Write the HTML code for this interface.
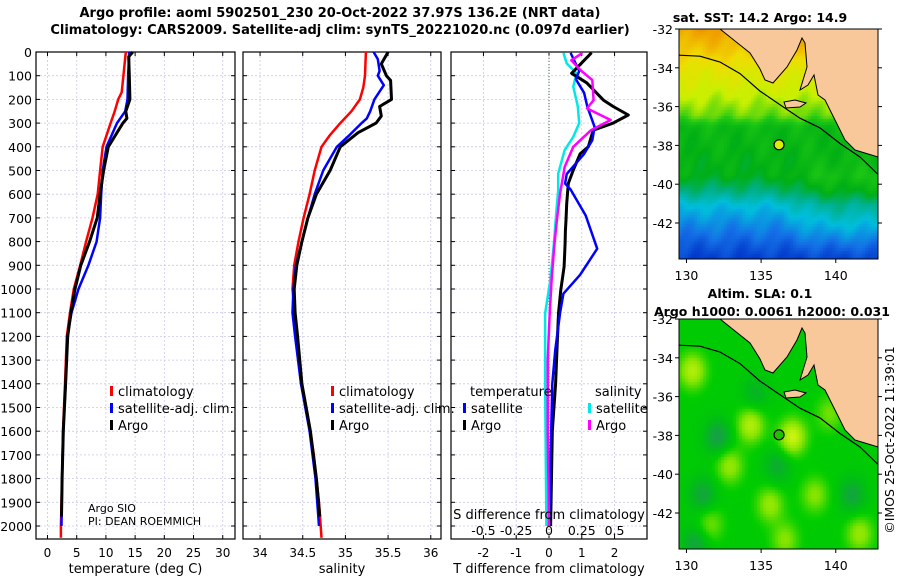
<!DOCTYPE html>
<html><head><meta charset="utf-8">
<style>
html,body{margin:0;padding:0;background:#fff;width:900px;height:580px;overflow:hidden;font-family:"DejaVu Sans","Liberation Sans",sans-serif;}
#wrap{position:relative;width:900px;height:580px;}
canvas{position:absolute;}
svg{position:absolute;left:0;top:0;}
</style></head><body>
<div id="wrap">
<canvas id="sst" width="199" height="230" style="left:679px;top:29px"></canvas>
<canvas id="sla" width="199" height="230" style="left:679px;top:319px"></canvas>
<svg id="fig" width="900" height="580"></svg>
</div>
<script>
// ---- data ----
const tDepth=[0,100,170,200,250,300,400,500,600,700,800,900,1000,1100,1200,1400,1600,1800,2000,2050];
const tClim=[13.4,13.0,12.7,12.1,11.5,10.8,9.45,9.0,8.6,7.7,6.6,5.6,4.5,3.85,3.3,3.0,2.65,2.5,2.3,2.3];
const tSatDepth=[0,50,100,200,250,300,400,500,600,700,800,900,1000,1100,1200,1400,1600,1800,2000];
const tSat=[14.0,13.9,13.8,13.7,13.3,11.9,10.1,9.45,9.2,9.0,8.4,7.0,5.3,4.1,3.4,3.1,2.7,2.5,2.4];
const argoDepth=[0,20,100,200,250,280,300,400,500,600,700,800,900,1000,1100,1200,1400,1600,1800,1960];
const tArgo=[14.6,13.9,14.0,14.1,13.4,13.6,12.9,10.4,9.6,9.0,8.5,7.2,5.7,4.7,4.0,3.45,3.1,2.7,2.5,2.4];
const sClimDepth=[0,100,150,200,250,300,350,400,500,600,700,800,900,1000,1400,1500,1600,1700,1800,1900,2000,2050];
const sClim=[35.24,35.23,35.21,35.17,35.07,34.94,34.82,34.72,34.64,34.58,34.51,34.45,34.40,34.38,34.48,34.54,34.59,34.63,34.66,34.69,34.71,34.72];
const sSatDepth=[0,30,80,100,140,200,250,280,300,350,400,500,600,700,800,900,1000,1100,1200,1400,1600,1800,2000];
const sSat=[35.33,35.38,35.40,35.38,35.45,35.34,35.29,35.25,35.19,35.05,34.9,34.74,34.64,34.56,34.49,34.42,34.39,34.38,34.41,34.48,34.58,34.65,34.69];
const sArgoDepth=[0,50,100,120,200,230,270,300,340,400,500,600,700,800,900,1000,1100,1200,1400,1600,1800,1960];
const sArgo=[35.50,35.42,35.48,35.53,35.54,35.40,35.42,35.36,35.15,34.94,34.82,34.66,34.56,34.49,34.43,34.40,34.41,34.44,34.49,34.59,34.66,34.70];
const dDepth=[3,90,130,203,230,266,300,330,400,430,498,555,640,709,755,808,906,1004,1103,1201,1400,1600,2000];
const dTArgo=[1.30,0.69,1.15,1.66,1.96,2.42,1.96,1.35,1.2,0.95,0.74,0.59,0.54,0.52,0.5,0.49,0.46,0.36,0.29,0.26,0.2,0.1,0.05];
const dSatDepth=[4,80,115,172,230,316,372,430,515,555,580,690,830,940,1020,1100,1260,1400,2000];
const dTSat=[0.66,0.92,0.82,1.07,1.17,1.39,1.32,1.07,0.54,0.49,0.66,1.12,1.47,0.95,0.44,0.34,0.19,0.1,0.0];
const dSArgoDepth=[4,35,77,118,203,238,287,330,400,485,597,709,822,963,1103,1300,1600,2000];
const dSArgo=[0.255,0.17,0.24,0.33,0.34,0.29,0.47,0.32,0.185,0.12,0.085,0.06,0.04,0.02,0.005,-0.01,-0.01,0.0];
const dSSatDepth=[4,48,90,146,230,300,358,414,513,583,681,822,963,1103,1400,2000];
const dSSat=[0.11,0.135,0.21,0.185,0.22,0.23,0.185,0.12,0.07,0.07,0.055,0.035,0.01,-0.03,-0.03,-0.02];
const tTicks=[0,5,10,15,20,25,30];
const sTicks=[34,34.5,35,35.5,36];
const dTTicks=[-2,-1,0,1,2];
const dSTicks=[-0.5,-0.25,0,0.25,0.5];
const depthTicks=[0,100,200,300,400,500,600,700,800,900,1000,1100,1200,1300,1400,1500,1600,1700,1800,1900,2000];

const NS='http://www.w3.org/2000/svg';
const svg=document.getElementById('fig');
function el(tag,attrs,parent){const e=document.createElementNS(NS,tag);for(const k in attrs)e.setAttribute(k,attrs[k]);(parent||svg).appendChild(e);return e;}
function txt(x,y,s,size,anchor,weight,parent){const t=el('text',{x:x,y:y,'font-size':size,'text-anchor':anchor||'middle','font-weight':weight||'normal',fill:'#000'},parent);t.textContent=s;return t;}

const top0=52,bot=539;
const yD=d=>top0+d*0.237;
const panels=[
 {x0:36,x1:235,v0:-1.97,v1:32.1,ticks:tTicks,name:'temperature-panel',title:'temperature (deg C)'},
 {x0:243,x1:441,v0:33.80,v1:36.12,ticks:sTicks,name:'salinity-panel',title:'salinity'},
 {x0:451,x1:647,v0:-2.99,v1:2.99,ticks:dTTicks,name:'difference-panel',title:'T difference from climatology'}
];
panels.forEach(p=>{p.x=v=>p.x0+(v-p.v0)/(p.v1-p.v0)*(p.x1-p.x0);});

let g=el('g',{});


txt(340,17,'Argo profile: aoml 5902501_230 20-Oct-2022 37.97S 136.2E (NRT data)',13,'middle','bold',g);
txt(340,34,'Climatology: CARS2009. Satellite-adj clim: synTS_20221020.nc (0.097d earlier)',13,'middle','bold',g);

panels.forEach((p,i)=>{
 const pg=el('g',{});
 
 
 depthTicks.forEach(d=>{if(d>0)el('line',{x1:p.x0,x2:p.x1,y1:yD(d),y2:yD(d),stroke:'#c8c8e8','stroke-width':0.8,'stroke-dasharray':'2,2'},pg);});
 p.ticks.forEach(v=>{el('line',{x1:p.x(v),x2:p.x(v),y1:top0,y2:bot,stroke:'#c8c8e8','stroke-width':0.8,'stroke-dasharray':'2,2'},pg);});
 depthTicks.forEach(d=>{el('line',{x1:p.x0,x2:p.x0+4,y1:yD(d),y2:yD(d),stroke:'#000'},pg);el('line',{x1:p.x1,x2:p.x1-4,y1:yD(d),y2:yD(d),stroke:'#000'},pg);});
 p.ticks.forEach(v=>{el('line',{x1:p.x(v),x2:p.x(v),y1:bot,y2:bot-4,stroke:'#000'},pg);el('line',{x1:p.x(v),x2:p.x(v),y1:top0,y2:top0+4,stroke:'#000'},pg);
   const t=txt(p.x(v),557,String(v),12,'middle','normal',pg);
   
   });
 const xt=txt((p.x0+p.x1)/2,573,p.title,13,'middle','normal',pg);
 
 
 el('rect',{x:p.x0,y:top0,width:p.x1-p.x0,height:bot-top0,fill:'none',stroke:'#000','stroke-width':1.2},pg);
 p.g=pg;
});
depthTicks.forEach(d=>{const t=txt(32,yD(d)+5,String(d),12.5,'end');
 
 });

function line(p,vals,depths,color,name,w,scale){
 const pts=vals.map((v,i)=>p.x(v*(scale||1)).toFixed(1)+','+yD(depths[i]).toFixed(1)).join(' ');
 const l=el('polyline',{points:pts,fill:'none',stroke:color,'stroke-width':w||2.5,'stroke-linejoin':'round'},p.g);
 
 
}
el('line',{x1:panels[2].x(0),x2:panels[2].x(0),y1:top0,y2:bot,stroke:'#446644','stroke-dasharray':'1,2'},panels[2].g);

line(panels[0],tClim,tDepth,'#ff0000','temp-climatology-line');
line(panels[0],tSat,tSatDepth,'#0000ff','temp-satellite-line');
line(panels[0],tArgo,argoDepth,'#000000','temp-argo-line',3);
line(panels[1],sClim,sClimDepth,'#ff0000','sal-climatology-line');
line(panels[1],sSat,sSatDepth,'#0000ff','sal-satellite-line');
line(panels[1],sArgo,sArgoDepth,'#000000','sal-argo-line',3);
line(panels[2],dSSat,dSSatDepth,'#00e8e8','s-diff-satellite-line',2.5,4);
line(panels[2],dTArgo,dDepth,'#000000','t-diff-argo-line',3);
line(panels[2],dTSat,dSatDepth,'#0000ff','t-diff-satellite-line');
line(panels[2],dSArgo,dSArgoDepth,'#ff00ff','s-diff-argo-line',2.5,4);

function leg(x,y,color,label,parent){
 const lg=el('g',{},parent);
 
 
 el('rect',{x:x,y:y-10,width:3,height:10,fill:color},lg);
 txt(x+8,y,label,13,'start','normal',lg);
}
[[110,panels[0].g],[331,panels[1].g]].forEach(([x,pg])=>{
 leg(x,396,'#ff0000','climatology',pg);
 leg(x,413,'#0000ff','satellite-adj. clim.',pg);
 leg(x,430,'#000000','Argo',pg);
});
txt(470,396,'temperature',13,'start','normal',panels[2].g);
txt(595,396,'salinity',13,'start','normal',panels[2].g);
leg(463,413,'#0000ff','satellite',panels[2].g);
leg(463,430,'#000000','Argo',panels[2].g);
leg(588,413,'#00e8e8','satellite',panels[2].g);
leg(588,430,'#ff00ff','Argo',panels[2].g);
let ag=el('g',{});


txt(88,512,'Argo SIO',11,'start','normal',ag);
txt(88,525,'PI: DEAN ROEMMICH',11,'start','normal',ag);
const sx=v=>panels[2].x(v*4);
txt(549,519,'S difference from climatology',13,'middle');
dSTicks.forEach(v=>{const t=txt(sx(v),535,String(v),12.5,'middle');
 
 });

// ---- maps ----
const mx=lon=>679+(lon-129.5)*14.93;
function mixc(a,b,t){return a.map((v,i)=>Math.round(v+(b[i]-v)*t));}
function cmap(stops,v){if(v<=stops[0][0])return stops[0][1];for(let i=1;i<stops.length;i++){if(v<=stops[i][0]){const t=(v-stops[i-1][0])/(stops[i][0]-stops[i-1][0]);return mixc(stops[i-1][1],stops[i][1],t);}}return stops[stops.length-1][1];}
function interp(xs,ys,x){if(x<=xs[0])return ys[0];for(let i=1;i<xs.length;i++)if(x<=xs[i]){const t=(x-xs[i-1])/(xs[i]-xs[i-1]);return ys[i-1]+(ys[i]-ys[i-1])*t;}return ys[ys.length-1];}
const sig=x=>1/(1+Math.exp(-x));
const sstStops=[[0.1,[0,50,200]],[0.2,[20,110,230]],[0.32,[0,190,220]],[0.42,[0,175,130]],[0.5,[0,175,20]],[0.58,[30,200,20]],[0.68,[200,240,0]],[0.8,[240,220,0]],[0.92,[240,150,0]]];
const slaStops=[[0,[30,150,90]],[0.3,[0,190,20]],[0.45,[0,205,0]],[0.7,[130,228,0]],[1,[215,245,20]]];
function drawMap(id,fn,stops){
 const c=document.getElementById(id).getContext('2d');
 for(let py=0;py<230;py+=3)for(let px=0;px<199;px+=3){
  const lon=129.5+px/14.93,lat=-32-py/19.4;
  const col=cmap(stops,fn(lat,lon));
  c.fillStyle='rgb('+col.join(',')+')';c.fillRect(px,py,3,3);
 }
}
drawMap('sst',(lat,lon)=>{
 let v=interp([-43.8,-43,-42,-41,-40.3,-39.5,-37,-36.4,-35,-34,-33,-32],[0.12,0.17,0.24,0.32,0.42,0.5,0.53,0.62,0.7,0.76,0.84,0.9],lat);
 v+=0.015*Math.sin(lon*2.1+lat*1.3)+0.012*Math.sin(lon*4.3-lat*3.1);
 v+=0.09*sig((lon-137.5)*1.5)*sig(-(lat+39.3)*2)*sig((lat+42.8)*2);
 return v;},sstStops);
const blobs=[[130.3,-34.6,0.45],[134.2,-37.4,0.45],[137,-38,0.55],[132.8,-39.5,0.35],[135.5,-41.5,0.35],[138.5,-41,0.3],[141.5,-43,0.35],[136.5,-43.3,0.3],[139.5,-36.8,0.25],[131.5,-42.5,0.25]];
const lows=[[132,-38,0.35],[131,-41,0.3],[136,-39.5,0.25],[141,-41,0.3],[130.5,-43.5,0.3],[134.5,-35.8,0.2]];
drawMap('sla',(lat,lon)=>{
 let v=0.42;
 blobs.forEach(b=>v+=b[2]*Math.exp(-((lon-b[0])**2+(lat-b[1])**2)/0.8));
 lows.forEach(b=>v-=b[2]*Math.exp(-((lon-b[0])**2+(lat-b[1])**2)/0.8));
 return v;},slaStops);

function mapDecor(oy,title1,titleY,circColor,name){
 const mg=el('g',{});
 
 
 const my=lat=>oy+(-32-lat)*19.4;
 const land=[[720,0],[735,12],[750,24],[760,40],[765,51],[773,54],[787,38],[797,21],[802,9],[805,14],[807,38],[800,61],[808,56],[814,46],[818,66],[825,71],[835,91],[845,111],[855,121],[878,128],[878,0]];
 el('polygon',{points:land.map(p=>p[0]+','+(oy+p[1])).join(' '),fill:'#f9c89a',stroke:'#000','stroke-width':1},mg);
 el('polygon',{points:[[784,73],[795,71],[806,74],[800,78],[786,79]].map(p=>p[0]+','+(oy+p[1])).join(' '),fill:'#f9c89a',stroke:'#000','stroke-width':1},mg);
 const shelf=[[679,-33.35],[700,-33.4],[720,-33.7],[740,-34.3],[760,-35.2],[780,-35.9],[800,-36.6],[820,-37.1],[840,-37.9],[860,-38.6],[878,-39.5]];
 el('polyline',{points:shelf.map(p=>p[0]+','+my(p[1]).toFixed(1)).join(' '),fill:'none',stroke:'#000','stroke-width':1.2},mg);
 el('circle',{cx:mx(136.2),cy:my(-37.97),r:5,fill:circColor,stroke:'#000','stroke-width':1.2},mg);
 el('rect',{x:679,y:oy,width:199,height:230,fill:'none',stroke:'#000','stroke-width':1},mg);
 [-32,-34,-36,-38,-40,-42].forEach(l=>{el('line',{x1:675,x2:679,y1:my(l),y2:my(l),stroke:'#000'},mg);el('line',{x1:878,x2:882,y1:my(l),y2:my(l),stroke:'#000'},mg);txt(673,my(l)+5,String(l),12.5,'end','normal',mg);});
 [130,135,140].forEach(l=>{el('line',{x1:mx(l),x2:mx(l),y1:oy+230,y2:oy+234,stroke:'#000'},mg);txt(mx(l),oy+251,String(l),12.5,'middle','normal',mg);});
 txt(760,titleY,title1,12.5,'middle','bold',mg);
}
mapDecor(29,'sat. SST: 14.2 Argo: 14.9',22,'#d8f000','sst-map-overlay');
mapDecor(319,'Altim. SLA: 0.1',298,'#20c000','sla-map-overlay');
const h=txt(654,316,'Argo h1000: 0.0061 h2000: 0.031',12.5,'start','bold');


const cp=txt(0,0,'©IMOS 25-Oct-2022 11:39:01',12.5,'middle');
cp.setAttribute('transform','translate(894,440) rotate(-90)');


</script>
</body></html>
